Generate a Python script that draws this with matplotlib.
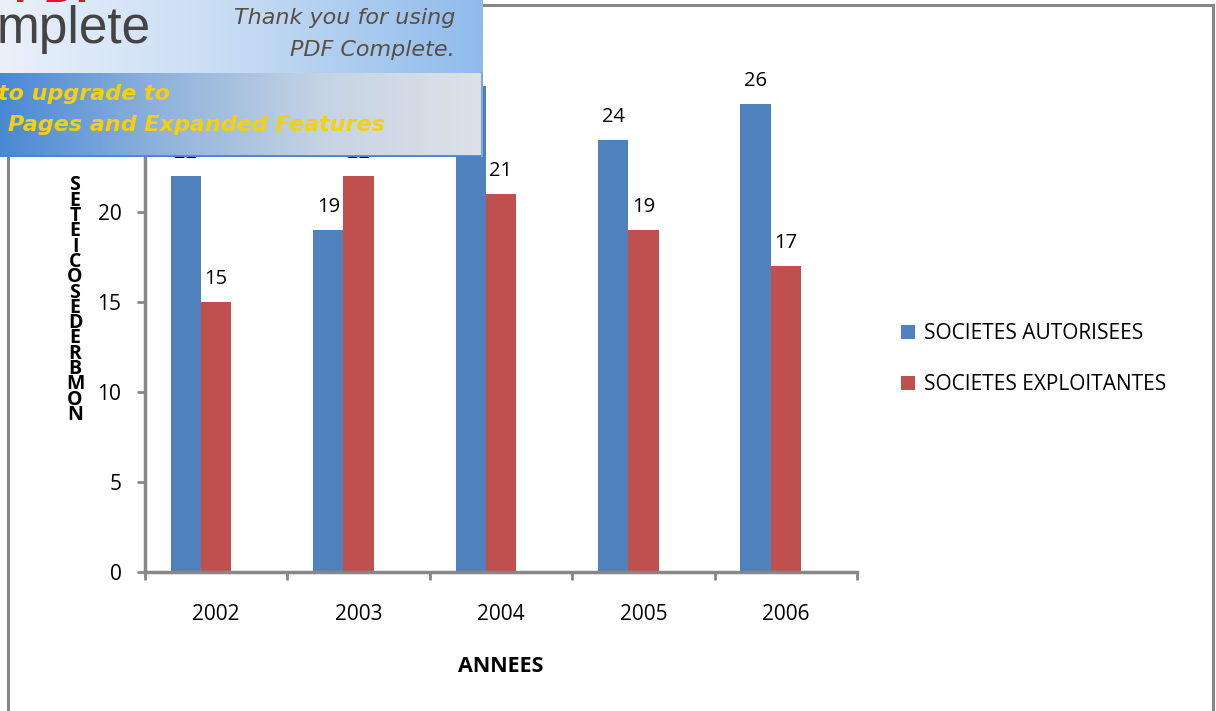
import matplotlib
matplotlib.use("Agg")
import matplotlib.pyplot as plt
import numpy as np
from matplotlib.patches import Rectangle

# ---------------------------------------------------------------------------
# Data
# ---------------------------------------------------------------------------
years = ["2002", "2003", "2004", "2005", "2006"]
autorisees = [22, 19, 27, 24, 26]
exploitantes = [15, 22, 21, 19, 17]
series_names = ["SOCIETES AUTORISEES", "SOCIETES EXPLOITANTES"]
ylabel_text = "NOMBRE DE SOCIETES"

BLUE = "#4F81BD"
RED = "#C0504D"
GREY = "#878787"

W, H = 1216, 711
plt.rcParams["font.family"] = ["Open Sans", "DejaVu Sans"]


def fx(px):
    return px / W


def fy(py):
    return 1 - py / H


fig = plt.figure(figsize=(W / 100, H / 100), dpi=100)

# outer chart frame
fig.patches.append(Rectangle((fx(8), fy(716)), fx(1213) - fx(8), fy(5) - fy(716),
                             transform=fig.transFigure, fill=False,
                             edgecolor=GREY, linewidth=2.2, zorder=0))

ax = fig.add_axes([fx(145), fy(572), fx(857) - fx(145), fy(32) - fy(572)])

x = np.arange(len(years))
bw = 0.213
b1 = ax.bar(x - bw, autorisees, bw, color=BLUE, label=series_names[0], zorder=2)
b2 = ax.bar(x, exploitantes, bw, color=RED, label=series_names[1], zorder=2)
for bars in (b1, b2):
    ax.bar_label(bars, padding=9, fontsize=14.5, color="black")

ax.set_xlim(-0.5, len(years) - 0.5)
ax.set_ylim(0, 30)
ax.set_yticks(range(0, 31, 5))
ax.tick_params(axis="y", length=6, width=2, color=GREY, labelsize=15, pad=11)

ax.set_xticks(np.arange(len(years) + 1) - 0.5)
ax.set_xticklabels([])
ax.set_xticks(x, minor=True)
ax.set_xticklabels(years, minor=True)
ax.tick_params(axis="x", which="major", length=6, width=2, color=GREY)
ax.tick_params(axis="x", which="minor", length=0, labelsize=15, pad=23)
ax.set_xlabel("ANNEES", fontsize=15.5, fontweight="bold", labelpad=22)

for side in ("top", "right"):
    ax.spines[side].set_visible(False)
for side in ("left", "bottom"):
    ax.spines[side].set_color(GREY)
    ax.spines[side].set_linewidth(2.5)

# stacked vertical y label (letters bottom to top, overlapping like the original)
letters = ylabel_text.replace(" ", "")
for i, ch in enumerate(letters):
    fig.text(fx(75), fy(415 - i * 15.3), ch, ha="center", va="center",
             fontsize=14, fontweight="bold", color="black")

ax.legend(loc="center left", bbox_to_anchor=(fx(893), fy(359)),
          bbox_transform=fig.transFigure, frameon=False, fontsize=15,
          handlelength=0.65, handleheight=0.65, handletextpad=0.45,
          labelspacing=1.45, borderaxespad=0)

# ---------------------------------------------------------------------------
# PDF Complete banner overlay (top left)
# ---------------------------------------------------------------------------
ban = fig.add_axes([0, fy(157), fx(483), fy(0) - fy(157)], zorder=10)
ban.set_xlim(0, 483)
ban.set_ylim(157, 0)
ban.axis("off")
grad = np.linspace(0, 1, 256)[None, :]
top_cols = matplotlib.colors.LinearSegmentedColormap.from_list(
    "top", ["#eaf1fb", "#c5dbf3", "#8fbbeb"])
bot_cols = matplotlib.colors.LinearSegmentedColormap.from_list(
    "bot", ["#4a88d4", "#8fb3dc", "#c5d3e3", "#dde2e8"])
ban.imshow(grad, cmap=top_cols, extent=[0, 483, 73, 0], aspect="auto")
ban.imshow(grad, cmap=bot_cols, extent=[0, 483, 157, 73], aspect="auto")
ban.plot([0, 483], [155.5, 155.5], color="#4a86d0", lw=2)
ban.plot([482, 482], [73, 157], color="#7fa8d8", lw=1.5)
ban.text(14, -9, "PDF", color="#e8141c", fontsize=32, fontweight="bold",
         fontfamily="Liberation Sans", va="center", ha="left")
ban.text(-3, 30, "mplete", color="#444444", fontsize=37,
         fontfamily="Liberation Sans", va="center", ha="left")
ban.text(455, 18, "Thank you for using", color="#5a4e42", fontsize=16,
         fontstyle="italic", fontfamily="DejaVu Sans", ha="right", va="center")
ban.text(455, 50, "PDF Complete.", color="#5a4e42", fontsize=16,
         fontstyle="italic", fontfamily="DejaVu Sans", ha="right", va="center")
ban.text(170, 94, "to upgrade to", color="#f7cf0a", fontsize=16,
         fontweight="bold", fontstyle="italic", fontfamily="DejaVu Sans",
         ha="right", va="center")
ban.text(385, 125, "Pages and Expanded Features", color="#f7cf0a", fontsize=16,
         fontweight="bold", fontstyle="italic", fontfamily="DejaVu Sans",
         ha="right", va="center")

fig.savefig("out.png", dpi=100)
